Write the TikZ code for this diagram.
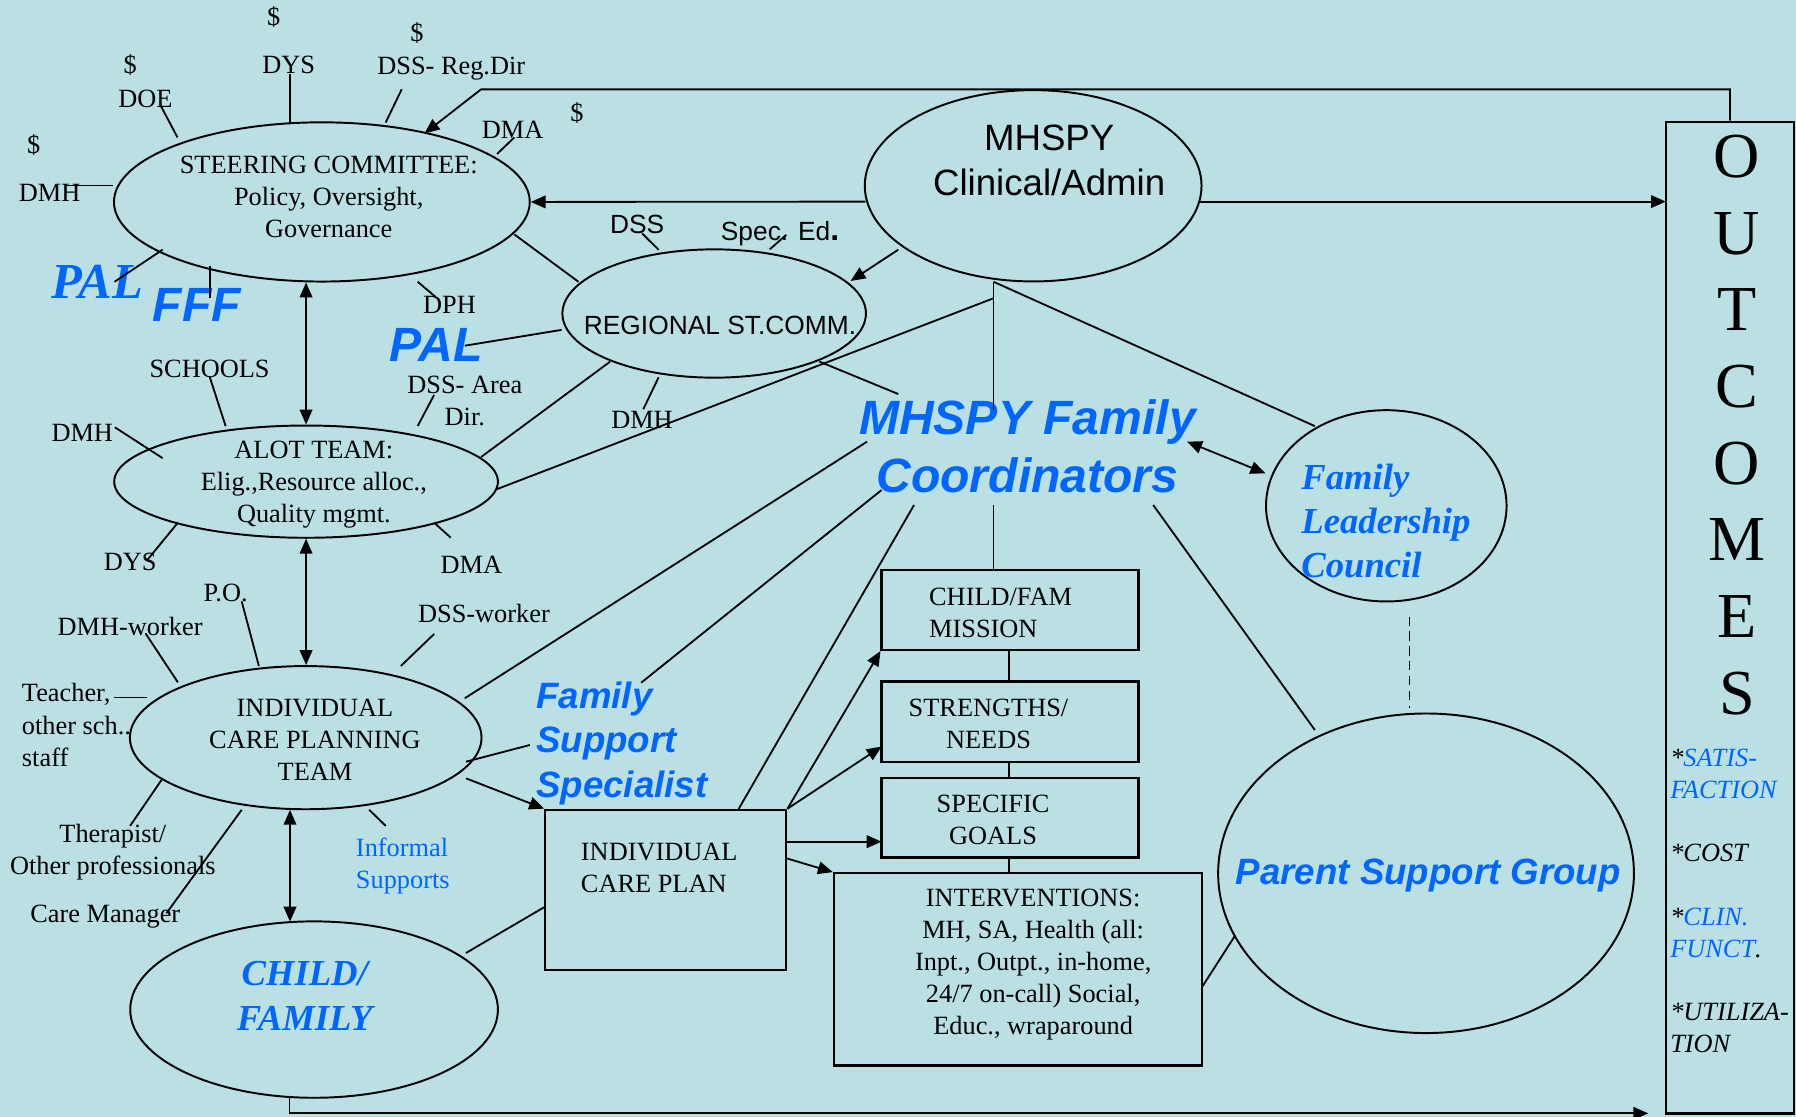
\documentclass[tikz,border=0pt]{standalone}
\usepackage{fontspec}
\setmainfont{Liberation Serif}
\newfontfamily\arialf{Liberation Sans}
\usetikzlibrary{arrows.meta,shapes.geometric}
\definecolor{bgc}{RGB}{186,224,227}
\definecolor{tblue}{RGB}{0,102,255}
\begin{document}
\begin{tikzpicture}[x=1pt,y=-1pt,
  ln/.style={line width=1.6pt},
  arr/.style={ln,-{Triangle[length=13pt,width=11pt]}},
  darr/.style={ln,{Triangle[length=13pt,width=11pt]}-{Triangle[length=13pt,width=11pt]}},
  ell/.style={ellipse,draw,line width=1.7pt,inner sep=0pt},
  boxs/.style={rectangle,draw,line width=2pt,inner sep=0pt},
  tms/.style={font=\fontsize{23}{28}\selectfont,inner sep=0pt,align=center},
  tmsl/.style={tms,align=left,anchor=west},
  ars/.style={font=\arialf\fontsize{23}{28}\selectfont,inner sep=0pt},
  bsans/.style={font=\arialf\bfseries\itshape\fontsize{32}{39}\selectfont,text=tblue,inner sep=0pt},
  bserif/.style={font=\bfseries\itshape\fontsize{32}{39}\selectfont,text=tblue,inner sep=0pt}
]
\fill[bgc] (0,0) rectangle (1568,975);
\useasboundingbox (0,0) rectangle (1568,975);

% ---------- main shapes ----------
\node[ell,minimum width=363pt,minimum height=139pt] (steer) at (281,176.3) {};
\node[ell,minimum width=294pt,minimum height=167pt] (mhspy) at (902,162.2) {};
\node[ell,minimum width=265pt,minimum height=112pt] (reg) at (623.5,273.7) {};
\node[ell,minimum width=335pt,minimum height=98pt] (alot) at (267.2,420.5) {};
\node[ell,minimum width=307pt,minimum height=125pt] (icpt) at (266.9,644) {};
\node[ell,minimum width=321pt,minimum height=154pt] (cf) at (274.2,881.4) {};
\node[ell,minimum width=210pt,minimum height=167pt] (flc) at (1210.3,441.6) {};
\node[ell,minimum width=363pt,minimum height=279pt] (psg) at (1245,762.4) {};

\node[boxs,minimum width=210.5pt,minimum height=140pt] (icp) at (581.25,777) {};
\node[boxs,minimum width=224.3pt,minimum height=69.8pt] (mission) at (881.85,532.5) {};
\node[boxs,minimum width=224.3pt,minimum height=70pt] (str) at (881.85,630) {};
\node[boxs,minimum width=224.3pt,minimum height=69.2pt] (goals) at (881.85,714.1) {};
\node[boxs,minimum width=321.6pt,minimum height=167.9pt] (interv) at (888.9,846.35) {};
\node[boxs,minimum width=111.8pt,minimum height=865.8pt] (outc) at (1510.3,539.1) {};

% ---------- texts in shapes ----------
\node[tms] (steertxt) at (287,172) {STEERING COMMITTEE:\\Policy, Oversight,\\Governance};
\node[font=\arialf\fontsize{32}{39}\selectfont,align=center,inner sep=0pt] (mhspytxt) at (916,140) {MHSPY\\Clinical/Admin};
\node[ars] (regtxt) at (628.6,283.7) {REGIONAL ST.COMM.};
\node[tms] (alottxt) at (274,423) {ALOT TEAM:\\Elig.,Resource alloc.,\\Quality mgmt.};
\node[tms] (icpttxt) at (275,646) {INDIVIDUAL\\CARE PLANNING\\TEAM};
\node[bserif,align=center] (cftxt) at (266,869.5) {CHILD/\\FAMILY};
\node[bserif,align=left,anchor=west,font=\bfseries\itshape\fontsize{32}{38.5}\selectfont] (flctxt) at (1136,455) {Family\\Leadership\\Council};
\node[bsans] (psgtxt) at (1247,764) {Parent Support Group};
\node[tmsl] (icptxt) at (507,757.6) {INDIVIDUAL\\CARE PLAN};
\node[tmsl] (missiontxt) at (811,535) {CHILD/FAM\\MISSION};
\node[tms] (strtxt) at (863,632) {STRENGTHS/\\NEEDS};
\node[tms] (goalstxt) at (867,716) {SPECIFIC\\GOALS};
\node[tms] (intervtxt) at (902,842) {INTERVENTIONS:\\MH, SA, Health (all:\\Inpt., Outpt., in-home,\\24/7 on-call) Social,\\Educ., wraparound};
\node[font=\fontsize{56}{66.9}\selectfont,align=center,inner sep=0pt] (outctxt) at (1516.6,371) {O\\U\\T\\C\\O\\M\\E\\S};
\node[font=\itshape\fontsize{23}{27.7}\selectfont,align=left,anchor=west,inner sep=0pt] (outcitems) at (1458,786.5)
  {*\textcolor{tblue}{SATIS-}\\\textcolor{tblue}{FACTION}\\[27.7pt]*COST\\[27.7pt]*\textcolor{tblue}{CLIN.}\\\textcolor{tblue}{FUNCT}.\\[27.7pt]*UTILIZA-\\TION};

% ---------- free texts ----------
\node[font=\arialf\bfseries\itshape\fontsize{42}{51}\selectfont,text=tblue,inner sep=0pt,align=center] (mfc) at (897,389.5) {MHSPY Family\\Coordinators};
\node[bsans,align=left,anchor=west] (fss) at (468,649) {Family\\Support\\Specialist};
\node[font=\bfseries\itshape\fontsize{44}{44}\selectfont,text=tblue,inner sep=0pt] (pal1) at (85,246) {PAL};
\node[font=\arialf\bfseries\itshape\fontsize{42}{42}\selectfont,text=tblue,inner sep=0pt] (fff) at (172,266) {FFF};
\node[font=\arialf\bfseries\itshape\fontsize{42}{42}\selectfont,text=tblue,inner sep=0pt] (pal2) at (380.8,301) {PAL};

\node[tms] (d1) at (239,14.5) {\$};
\node[tms] (d2) at (364,29) {\$};
\node[tms] (d3) at (113.6,56.7) {\$};
\node[tms] (d4) at (29.4,126.6) {\$};
\node[tms] (d5) at (503.7,99) {\$};
\node[tms] (ldys) at (252,57) {DYS};
\node[tms] (ldssreg) at (394,60) {DSS- Reg.Dir};
\node[tms] (ldoe) at (127,86) {DOE};
\node[tms] (ldmh) at (43.4,168.8) {DMH};
\node[tms] (ldma) at (447.6,113.5) {DMA};
\node[tms] (ldph) at (392.5,266) {DPH};
\node[ars] (ldss) at (556.2,195.6) {DSS};
\node[ars] (lspec) at (681,203.7) {Spec. Ed{\fontsize{28}{28}\selectfont\bfseries .}};
\node[tms] (ldmhr) at (560.5,366.6) {DMH};
\node[tms] (lschools) at (183,322) {SCHOOLS};
\node[tms] (ldssarea) at (405.8,350.4) {DSS- Area\\Dir.};
\node[tms] (ldmha) at (71.8,378.3) {DMH};
\node[tms] (ldysa) at (113.6,490.3) {DYS};
\node[tms] (ldmaa) at (411.5,493.2) {DMA};
\node[tms] (lpo) at (197,518) {P.O.};
\node[tms] (ldmhw) at (113.6,547) {DMH-worker};
\node[tms] (ldssw) at (422.5,535.4) {DSS-worker};
\node[tmsl] (lteach) at (19,633) {Teacher,\\other sch..\\staff};
\node[tms] (lther) at (98.5,744) {Therapist/\\Other professionals};
\node[tms] (lcare) at (91.9,800.2) {Care Manager};
\node[tmsl,text=tblue] (linf) at (310.6,756) {Informal\\Supports};

% ---------- coordinates ----------
\coordinate (c1a) at (253,64.6);     \coordinate (c1b) at (253,107.5);
\coordinate (c2a) at (350.7,78);     \coordinate (c2b) at (336.7,107);
\coordinate (c3a) at (140,91.7);     \coordinate (c3b) at (155,120);
\coordinate (c4a) at (56.8,162);
\coordinate (c5a) at (449,120);      \coordinate (c5b) at (434,134.4);
\coordinate (c6a) at (100,246);      \coordinate (c6b) at (142,218);
\coordinate (c7a) at (183,232);      \coordinate (c7b) at (183,260);
\coordinate (c8a) at (364.7,246);    \coordinate (c8b) at (380,259);
\coordinate (c9a) at (405.8,301.8);  \coordinate (c9b) at (490.3,288);
\coordinate (c10a) at (449,204.6);   \coordinate (c10b) at (505,246);
\coordinate (c11a) at (560.5,203.7); \coordinate (c11b) at (575,218);
\coordinate (c12a) at (672,217.7);   \coordinate (c12b) at (686.5,205);
\coordinate (c13a) at (575,329.4);   \coordinate (c13b) at (561.6,357.3);
\coordinate (c14a) at (532.7,315.7); \coordinate (c14b) at (420,399);
\coordinate (c15a) at (715.4,315.7); \coordinate (c15b) at (784.2,344);
\coordinate (mtop) at (867.4,246);   \coordinate (mbot) at (867.4,358);
\coordinate (mmid) at (867.4,260.4); \coordinate (c17b) at (434,427);
\coordinate (c18b) at (1147.9,372);
\coordinate (c19a) at (183,328.8);   \coordinate (c19b) at (197,372);
\coordinate (c20a) at (379,344.8);   \coordinate (c20b) at (364.7,371.9);
\coordinate (c21a) at (100.2,373);   \coordinate (c21b) at (142,400);
\coordinate (c22a) at (128.6,488.9); \coordinate (c22b) at (155.3,456.3);
\coordinate (c23a) at (393.5,469.4); \coordinate (c23b) at (379,456.3);
\coordinate (c24a) at (211,525);     \coordinate (c24b) at (226,581.4);
\coordinate (c25a) at (127,552.9);   \coordinate (c25b) at (155.3,595.7);
\coordinate (c26a) at (379,553.5);   \coordinate (c26b) at (350,581.4);
\coordinate (c27a) at (99.5,609);    \coordinate (c27b) at (128,609);
\coordinate (c28a) at (113.6,721);   \coordinate (c28b) at (142,679.5);
\coordinate (c29a) at (145.3,797.3); \coordinate (c29b) at (211,707);
\coordinate (c30a) at (322.3,707);   \coordinate (c30b) at (336.7,721);
\coordinate (c31a) at (406.8,665);   \coordinate (c31b) at (462.6,650.4);
\coordinate (f1) at (757,385.6);     \coordinate (c32b) at (405.8,609.6);
\coordinate (f2) at (769.7,427.8);   \coordinate (c33b) at (559.8,596);
\coordinate (f3) at (798,440.9);     \coordinate (c34b) at (644.9,706.2);
\coordinate (f4) at (867.4,440.9);
\coordinate (f5) at (1006.8,440.9);  \coordinate (c36b) at (1147.9,637.3);
\coordinate (f6) at (1036.4,385.6);  \coordinate (c37b) at (1104.7,413.2);
\coordinate (c38a) at (406.8,832);   \coordinate (c38b) at (476,791.5);
\coordinate (c39a) at (1049.7,861.3);\coordinate (c39b) at (1077.7,817.7);
\coordinate (c40a) at (1230.6,538.3);\coordinate (c40b) at (1230.6,618.4);
\coordinate (a1a) at (755.5,176);
\coordinate (a2a) at (1047,176);     \coordinate (a2b) at (1454.4,176);
\coordinate (a3a) at (784.2,218);    \coordinate (a3b) at (742.6,245.3);
\coordinate (a4k) at (420,78);       \coordinate (a4b) at (370.7,116.4);
\coordinate (a5x) at (267.2,0);
\coordinate (a7a) at (253.2,707);    \coordinate (a7b) at (253.2,804.6);
\coordinate (a8a) at (406.8,679.5);
\coordinate (a10b) at (769.7,651.8);
\coordinate (a11a) at (686.5,734.8); \coordinate (a11b) at (769.7,734.8);
\coordinate (a12a) at (686.5,749.3);
\coordinate (a13a) at (252.8,958);   \coordinate (a13b) at (1439,972);
\coordinate (bx) at (881.2,0);

% ---------- connectors ----------
\draw[ln] (c1a) -- (c1b);
\draw[ln] (c2a) -- (c2b);
\draw[ln] (c3a) -- (c3b);
\draw[ln] (c4a) -- (steer.west |- c4a);
\draw[ln] (c5a) -- (c5b);
\draw[ln] (c6a) -- (c6b);
\draw[ln] (c7a) -- (c7b);
\draw[ln] (c8a) -- (c8b);
\draw[ln] (c9a) -- (c9b);
\draw[ln] (c10a) -- (c10b);
\draw[ln] (c11a) -- (c11b);
\draw[ln] (c12a) -- (c12b);
\draw[ln] (c13a) -- (c13b);
\draw[ln] (c14a) -- (c14b);
\draw[ln] (c15a) -- (c15b);
\draw[ln] (mtop) -- (mbot);
\draw[ln] (mmid) -- (c17b);
\draw[ln] (mtop) -- (c18b);
\draw[ln] (c19a) -- (c19b);
\draw[ln] (c20a) -- (c20b);
\draw[ln] (c21a) -- (c21b);
\draw[ln] (c22a) -- (c22b);
\draw[ln] (c23a) -- (c23b);
\draw[ln] (c24a) -- (c24b);
\draw[ln] (c25a) -- (c25b);
\draw[ln] (c26a) -- (c26b);
\draw[ln] (c27a) -- (c27b);
\draw[ln] (c28a) -- (c28b);
\draw[ln] (c29a) -- (c29b);
\draw[ln] (c30a) -- (c30b);
\draw[ln] (c31a) -- (c31b);
\draw[ln] (f1) -- (c32b);
\draw[ln] (f2) -- (c33b);
\draw[ln] (f3) -- (c34b);
\draw[ln] (f4) -- (f4 |- mission.north);
\draw[ln] (f5) -- (c36b);
\draw[darr] (f6) -- (c37b);
\draw[ln] (c38a) -- (c38b);
\draw[ln] (c39a) -- (c39b);
\draw[ln,dash pattern=on 8pt off 5pt] (c40a) -- (c40b);
\draw[ln] (bx |- mission.south) -- (bx |- str.north);
\draw[ln] (bx |- str.south) -- (bx |- goals.north);
\draw[ln] (bx |- goals.south) -- (bx |- interv.north);

\draw[arr] (a1a) -- (steer.east);
\draw[arr] (a2a) -- (a2b);
\draw[arr] (a3a) -- (a3b);
\draw[arr] (outc.north) |- (a4k) -- (a4b);
\draw[darr] (a5x |- steer.south) -- (a5x |- alot.north);
\draw[darr] (a5x |- alot.south) -- (a5x |- icpt.north);
\draw[darr] (a7a) -- (a7b);
\draw[arr] (a8a) -- (icp.north west);
\draw[arr] (icp.north east) -- (mission.south west);
\draw[arr] (icp.north east) -- (a10b);
\draw[arr] (a11a) -- (a11b);
\draw[arr] (a12a) -- (interv.north west);
\draw[arr] (a13a) |- (a13b);
\end{tikzpicture}
\end{document}
